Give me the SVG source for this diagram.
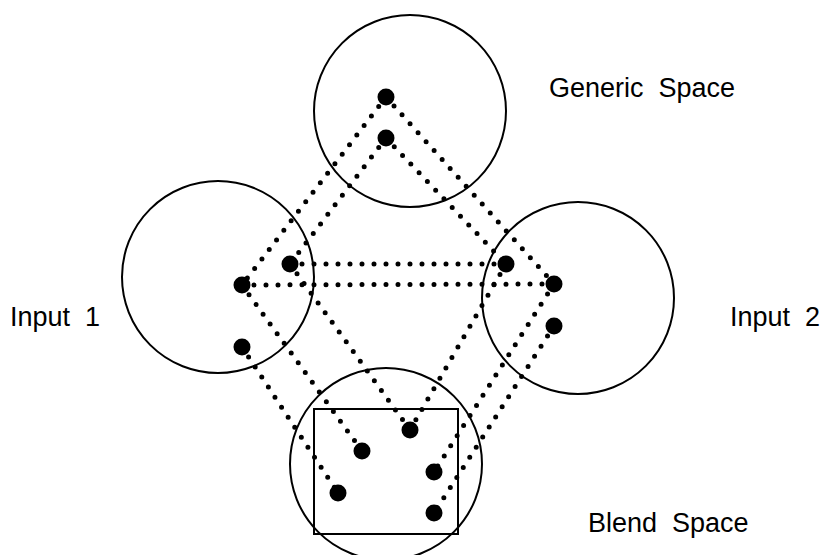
<svg xmlns="http://www.w3.org/2000/svg" width="823" height="555" viewBox="0 0 823 555">
<style>
.space{fill:none;stroke:#000;stroke-width:2}
.pt{fill:#000}
.link{fill:none;stroke:#000;stroke-width:5;stroke-linecap:round;stroke-dasharray:0 12}
.lbl{font-family:"Liberation Sans",Arial,sans-serif;font-size:27px;fill:#000;white-space:pre}
</style>
<rect width="823" height="555" fill="#fff"/>
<g id="connectors">
<line class="link" x1="386" y1="97" x2="242" y2="285"/>
<line class="link" x1="386" y1="97" x2="554" y2="284"/>
<line class="link" x1="386" y1="138" x2="290" y2="264"/>
<line class="link" x1="386" y1="138" x2="506" y2="264"/>
<line class="link" x1="290" y1="264" x2="506" y2="264"/>
<line class="link" x1="242" y1="285" x2="554" y2="284"/>
<line class="link" x1="290" y1="264" x2="410" y2="430"/>
<line class="link" x1="506" y1="264" x2="410" y2="430"/>
<line class="link" x1="242" y1="285" x2="362" y2="451"/>
<line class="link" x1="242" y1="347" x2="338" y2="493"/>
<line class="link" x1="554" y1="284" x2="434" y2="472"/>
<line class="link" x1="554" y1="326" x2="434" y2="513"/>
</g>
<g id="generic-space">
<circle class="space" cx="410" cy="111" r="96"/>
<circle class="pt" cx="386" cy="97" r="8.5"/>
<circle class="pt" cx="386" cy="138" r="8.5"/>
<text class="lbl" x="549" y="97" xml:space="preserve">Generic  Space</text>
</g>
<g id="input-1">
<circle class="space" cx="218" cy="277" r="96"/>
<circle class="pt" cx="290" cy="264" r="8.5"/>
<circle class="pt" cx="242" cy="285" r="8.5"/>
<circle class="pt" cx="242" cy="347" r="8.5"/>
<text class="lbl" x="10" y="326" xml:space="preserve">Input  1</text>
</g>
<g id="input-2">
<circle class="space" cx="578" cy="298" r="96"/>
<circle class="pt" cx="506" cy="264" r="8.5"/>
<circle class="pt" cx="554" cy="284" r="8.5"/>
<circle class="pt" cx="554" cy="326" r="8.5"/>
<text class="lbl" x="730" y="326" xml:space="preserve">Input  2</text>
</g>
<g id="blend-space">
<circle class="space" cx="386" cy="464" r="96"/>
<rect class="space" x="314" y="409" width="144" height="125"/>
<circle class="pt" cx="410" cy="430" r="8.5"/>
<circle class="pt" cx="362" cy="451" r="8.5"/>
<circle class="pt" cx="338" cy="493" r="8.5"/>
<circle class="pt" cx="434" cy="472" r="8.5"/>
<circle class="pt" cx="434" cy="513" r="8.5"/>
<text class="lbl" x="588" y="532" xml:space="preserve">Blend  Space</text>
</g>
</svg>
